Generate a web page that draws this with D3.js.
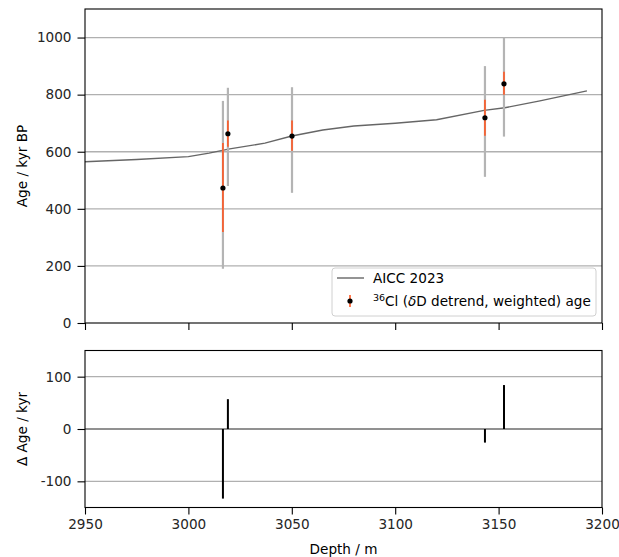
<!DOCTYPE html>
<html>
<head>
<meta charset="utf-8">
<script src="https://cdn.jsdelivr.net/npm/d3@7"></script>
<style>
  body { margin: 0; background: #fff; }
  text { font-family: "DejaVu Sans", sans-serif; }
</style>
</head>
<body>
<div id="chart"></div>
<script>
// AICC 2023 age model
var aiccDepth = [2950, 2975, 3000, 3010, 3020, 3037, 3050, 3065, 3080, 3100, 3120, 3143, 3153, 3170, 3192.7];
var aiccAge = [565, 573, 583, 595, 610, 630, 655, 676, 690, 700, 712, 745, 754, 778, 813];

// 36Cl samples
var clDepth = [3016.7, 3019.1, 3050.1, 3143.4, 3152.6];
var clAge = [473, 663, 655, 719, 838];
var grayLow = [190, 480, 456, 512, 653];
var grayHigh = [778, 824, 826, 900, 1000];
var errLow = [319, 617, 603, 656, 800];
var errHigh = [631, 709, 709, 782, 880];
var deltaAge = [-133, 57, 0, -26, 84];

var xTicks = [2950, 3000, 3050, 3100, 3150, 3200];
var topTicks = [0, 200, 400, 600, 800, 1000];
var botTicks = [-100, 0, 100];

var width = 619, height = 557;
var left = 85, right = 602;
var top1 = 9, bot1 = 323;
var top2 = 350.5, bot2 = 507.5;
var fs = 13.6;

var svg = d3.select("#chart").append("svg")
  .attr("width", width)
  .attr("height", height);

var x = d3.scaleLinear().domain([2950, 3200]).range([left, right]);
var y1 = d3.scaleLinear().domain([0, 1100]).range([bot1, top1]);
var y2 = d3.scaleLinear().domain([-150, 150]).range([bot2, top2]);

// gridlines
svg.append("g").selectAll("line")
  .data(topTicks.slice(1))
  .enter().append("line")
  .attr("x1", left).attr("x2", right)
  .attr("y1", d => y1(d)).attr("y2", d => y1(d))
  .attr("stroke", "#b0b0b0").attr("stroke-width", 1.3);

svg.append("g").selectAll("line")
  .data(botTicks)
  .enter().append("line")
  .attr("x1", left).attr("x2", right)
  .attr("y1", d => y2(d)).attr("y2", d => y2(d))
  .attr("stroke", "#b0b0b0").attr("stroke-width", 1.3);

// zero line
svg.append("line")
  .attr("x1", left).attr("x2", right)
  .attr("y1", y2(0)).attr("y2", y2(0))
  .attr("stroke", "#808080").attr("stroke-width", 1.3);

// AICC curve
var line = d3.line().x((d, i) => x(d)).y((d, i) => y1(aiccAge[i]));
svg.append("path")
  .datum(aiccDepth)
  .attr("d", line)
  .attr("fill", "none")
  .attr("stroke", "#666666")
  .attr("stroke-width", 1.4);

// error bars
svg.append("g").selectAll("line")
  .data(clDepth)
  .enter().append("line")
  .attr("x1", d => x(d)).attr("x2", d => x(d))
  .attr("y1", (d, i) => y1(grayLow[i])).attr("y2", (d, i) => y1(grayHigh[i]))
  .attr("stroke", "#b4b4b4").attr("stroke-width", 2.2);

svg.append("g").selectAll("line")
  .data(clDepth)
  .enter().append("line")
  .attr("x1", d => x(d)).attr("x2", d => x(d))
  .attr("y1", (d, i) => y1(errLow[i])).attr("y2", (d, i) => y1(errHigh[i]))
  .attr("stroke", "#ff5722").attr("stroke-width", 1.6);

svg.append("g").selectAll("circle")
  .data(clDepth)
  .enter().append("circle")
  .attr("cx", d => x(d))
  .attr("cy", (d, i) => y1(clAge[i]))
  .attr("r", 2.6)
  .attr("fill", "#000");

// delta bars
svg.append("g").selectAll("line")
  .data(clDepth)
  .enter().append("line")
  .attr("x1", d => x(d)).attr("x2", d => x(d))
  .attr("y1", y2(0)).attr("y2", (d, i) => y2(deltaAge[i]))
  .attr("stroke", "#000").attr("stroke-width", 2);

// axes
function frame(y0, y1_) {
  svg.append("rect")
    .attr("x", left).attr("y", y0)
    .attr("width", right - left).attr("height", y1_ - y0)
    .attr("fill", "none").attr("stroke", "#000").attr("stroke-width", 1.1);
}
frame(top1, bot1);
frame(top2, bot2);

function styleAxis(g) {
  g.select(".domain").remove();
  g.selectAll(".tick line").attr("stroke", "#000").attr("stroke-width", 1.1);
  g.selectAll(".tick text")
    .attr("font-family", "DejaVu Sans, sans-serif")
    .attr("font-size", fs)
    .attr("fill", "#262626");
}

svg.append("g")
  .attr("transform", `translate(${left},0)`)
  .call(d3.axisLeft(y1).tickValues(topTicks).tickSize(7.5).tickPadding(6).tickFormat(d3.format("d")))
  .call(styleAxis);

svg.append("g")
  .attr("transform", `translate(${left},0)`)
  .call(d3.axisLeft(y2).tickValues(botTicks).tickSize(7.5).tickPadding(6).tickFormat(d => d < 0 ? "-" + Math.abs(d) : d))
  .call(styleAxis);

svg.append("g")
  .attr("transform", `translate(0,${bot1})`)
  .call(d3.axisBottom(x).tickValues(xTicks).tickSize(7).tickFormat(""))
  .call(styleAxis);

svg.append("g")
  .attr("transform", `translate(0,${bot2})`)
  .call(d3.axisBottom(x).tickValues(xTicks).tickSize(7).tickPadding(5).tickFormat(d3.format("d")))
  .call(styleAxis);

// axis labels
svg.append("text")
  .attr("transform", `translate(27,${(top1 + bot1) / 2}) rotate(-90)`)
  .attr("text-anchor", "middle")
  .attr("font-size", fs)
  .text("Age / kyr BP");

svg.append("text")
  .attr("transform", `translate(27,${(top2 + bot2) / 2}) rotate(-90)`)
  .attr("text-anchor", "middle")
  .attr("font-size", fs)
  .text("Δ Age / kyr");

svg.append("text")
  .attr("x", (left + right) / 2).attr("y", 554)
  .attr("text-anchor", "middle")
  .attr("font-size", fs)
  .text("Depth / m");

// legend
var lg = svg.append("g").attr("transform", "translate(332,268)");
lg.append("rect")
  .attr("width", 264).attr("height", 48)
  .attr("rx", 3)
  .attr("fill", "#fff").attr("fill-opacity", 0.8)
  .attr("stroke", "#d0d0d0");
lg.append("line")
  .attr("x1", 5).attr("x2", 32).attr("y1", 10).attr("y2", 10)
  .attr("stroke", "#666666").attr("stroke-width", 1.4);
lg.append("text")
  .attr("x", 41).attr("y", 15)
  .attr("font-size", fs)
  .text("AICC 2023");
lg.append("line")
  .attr("x1", 18).attr("x2", 18).attr("y1", 27).attr("y2", 39)
  .attr("stroke", "#ff5722").attr("stroke-width", 1.6);
lg.append("circle")
  .attr("cx", 18).attr("cy", 33).attr("r", 2.6).attr("fill", "#000");
var t = lg.append("text")
  .attr("x", 41).attr("y", 38)
  .attr("font-size", fs);
t.append("tspan").attr("font-size", 9.5).attr("dy", -5).text("36");
t.append("tspan").attr("dy", 5).text("Cl (");
t.append("tspan").attr("font-style", "italic").text("δ");
t.append("tspan").text("D detrend, weighted) age");
</script>
</body>
</html>
